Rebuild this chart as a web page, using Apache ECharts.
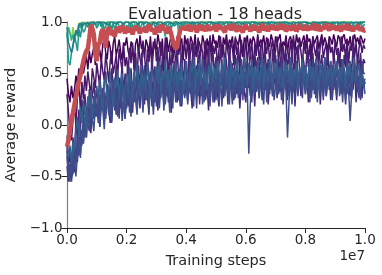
<!DOCTYPE html>
<html><head><meta charset="utf-8">
<script src="https://cdn.jsdelivr.net/npm/echarts@6/dist/echarts.min.js"></script>
<style>html,body{margin:0;padding:0;background:#fff}#c{width:382px;height:275px}</style>
</head><body><div id="c"></div>
<script>
// evaluation every 5e4 steps, values in hundredths of reward
const stepSize = 5e4;
const title = 'Evaluation - 18 heads';
const xName = 'Training steps';
const yName = 'Average reward';
const xTickLabels = ['0.0','0.2','0.4','0.6','0.8','1.0'];
const yTickLabels = ['\u22121.0','\u22120.5','0.0','0.5','1.0'];

const headDark = [45,30,22,38,26,34,48,40,55,44,62,50,58,67,54,72,60,69,75,58,
80,66,73,61,78,84,70,64,82,75,59,79,86,68,74,83,71,63,80,77,
85,72,66,81,76,57,79,84,69,87,74,80,65,83,78,70,86,62,81,75,
73,88,79,67,84,52,77,85,71,80,88,66,82,76,86,70,79,84,63,87,
78,84,70,86,81,74,88,67,83,79,72,87,80,58,84,76,85,71,88,79,
82,75,87,80,68,85,78,88,73,83,79,86,70,84,81,77,88,74,66,85,
80,87,72,84,78,86,81,69,88,76,83,79,87,73,85,80,76,88,82,71,
86,79,84,88,74,81,77,87,70,83,86,78,84,72,88,80,85,76,82,87,
75,88,81,84,69,86,79,83,87,74,82,88,77,85,80,72,86,83,78,88,
81,76,87,84,72,85,88,79,83,77,86,74,82,88,80,85,78,87,83,79,84];
const headPurple1 = [30,12,-8,-15,5,20,-2,28,38,15,42,25,48,33,52,40,28,55,46,36,
60,48,38,65,52,44,70,56,41,62,72,50,58,68,45,74,63,52,78,57,
66,48,75,60,80,53,70,42,77,64,58,82,68,50,74,61,79,55,72,84,
62,76,50,81,67,58,85,73,47,70,78,60,83,55,75,68,86,52,71,79,
64,84,57,72,80,49,76,66,85,60,78,70,53,82,74,63,87,58,77,69,
81,56,73,86,65,78,50,84,71,62,80,75,58,86,68,77,54,83,72,66,
85,60,76,70,82,52,79,67,86,63,74,81,57,78,69,84,61,75,83,64,
72,86,59,80,68,77,55,84,73,62,82,70,87,58,76,66,83,71,60,81,
69,84,63,78,56,86,74,67,82,59,77,85,65,73,80,57,84,70,76,62,
83,68,75,58,86,71,79,64,84,60,77,72,87,66,80,59,75,82,70,78,74];
const headViolet = [-20,-40,-28,-45,-12,-30,5,-15,15,-5,25,8,30,14,2,35,20,28,42,18,
35,22,48,30,15,44,52,26,38,20,55,40,32,58,25,46,36,60,30,50,
42,62,34,55,28,48,66,40,58,32,70,45,54,36,64,50,30,68,44,57,
38,72,52,46,66,34,60,74,42,56,68,36,62,48,76,40,58,70,33,64,
55,45,73,38,62,78,50,42,68,58,35,72,54,64,46,76,40,60,70,48,
66,38,58,74,50,44,70,62,36,78,52,60,42,68,56,74,46,64,38,72,
50,62,44,76,58,36,70,54,66,48,78,40,60,72,46,64,52,38,74,58,
68,42,62,54,76,48,38,70,58,66,44,74,52,62,40,78,56,46,68,60,
44,72,56,64,38,70,50,60,76,46,58,68,42,66,54,74,48,62,40,70,
58,46,74,52,64,40,68,56,72,44,62,50,76,58,42,66,54,70,48,64,60];
const headPurple2 = [-40,-55,-42,-50,-30,-46,-22,-36,-10,-28,-5,-18,8,-12,15,0,-8,20,6,25,
12,28,-2,18,32,8,24,38,14,2,30,20,40,10,26,36,16,44,22,6,
34,18,46,28,12,40,24,50,32,16,44,36,20,52,28,10,42,30,48,22,
38,14,50,30,44,20,54,36,26,46,12,40,56,32,22,48,36,18,52,28,
42,24,56,34,16,48,38,28,58,20,44,32,52,26,40,14,54,36,46,22,
50,30,18,44,56,26,38,48,20,58,34,42,24,52,30,46,16,40,54,32,
22,48,36,58,28,44,18,52,38,30,56,24,46,34,60,20,42,50,28,40,
54,26,44,32,58,20,48,38,24,52,42,30,56,18,46,36,50,28,40,58,
30,48,22,54,40,34,60,26,44,50,20,46,36,56,28,42,52,24,48,38,
46,24,52,36,58,30,44,20,54,40,28,50,34,56,22,48,38,60,26,44,40];
const headIndigo = [-25,-50,-38,-55,-42,-20,-32,-12,-28,-5,-18,5,-8,15,2,22,-4,12,28,8,
20,2,30,16,36,8,26,40,12,32,22,44,14,28,38,6,34,46,20,30,
42,24,50,16,36,46,28,54,32,20,48,38,58,26,44,30,52,18,40,56,
30,50,24,58,42,34,62,28,46,54,20,44,60,36,26,52,40,64,32,48,
56,36,44,62,26,50,40,58,30,64,46,34,54,24,48,60,38,52,28,44,
60,32,50,42,64,28,54,38,46,62,34,56,26,48,58,40,30,64,44,52,
36,58,46,28,62,40,54,32,60,44,50,26,64,38,48,56,30,52,42,62,
48,30,56,44,64,34,50,60,28,46,58,38,54,24,62,42,52,36,60,46,
58,40,32,54,46,64,30,50,42,60,36,56,28,48,62,38,52,44,58,34,
44,62,38,52,30,58,48,36,64,42,54,32,50,60,40,56,28,46,62,50,50];
const headSlate = [-15,-42,-55,-35,-48,-25,-38,-10,-30,-2,-20,8,-12,18,0,-6,22,4,14,26,
8,20,-2,28,14,32,6,24,36,12,2,30,18,38,10,26,34,4,22,40,
16,36,26,8,42,22,32,14,46,28,38,12,48,24,34,18,44,30,10,40,
26,46,16,38,30,50,20,42,34,12,48,28,40,22,52,32,18,44,36,26,
48,20,38,30,54,26,44,16,50,36,28,46,22,56,34,40,18,52,30,42,
24,50,36,46,18,54,32,42,28,56,38,20,48,34,52,26,44,30,58,36,
44,28,54,38,22,50,42,32,58,26,46,36,20,52,40,30,56,34,48,24,
38,56,30,46,24,52,40,34,58,28,44,20,50,36,54,30,42,48,26,56,
32,50,40,22,54,36,46,28,58,42,30,52,24,48,38,56,34,44,26,50,
40,28,54,36,48,22,56,44,30,52,38,26,50,42,58,32,46,24,54,36,42];
const headBlue1 = [-30,-52,-40,-48,-22,-36,-50,-28,-10,-32,-5,-18,8,-12,14,-2,20,6,-6,18,
12,26,2,30,16,-4,22,34,10,28,4,36,18,26,8,32,40,14,24,6,
28,40,12,34,20,46,26,10,38,30,48,16,42,24,36,14,50,32,20,44,
18,38,50,26,42,14,34,48,22,44,36,16,52,30,40,24,54,20,46,34,
40,24,52,32,46,18,56,36,28,50,42,20,54,34,44,26,58,38,22,48,
34,54,22,46,38,58,28,48,40,20,56,36,44,26,52,42,30,58,24,46,
52,36,-28,20,44,56,30,48,38,26,54,42,34,58,22,50,40,46,28,56,
42,30,52,38,58,26,48,34,-12,22,46,56,32,50,40,28,54,44,36,58,
30,50,40,56,26,46,36,54,22,48,42,58,32,44,28,52,38,56,24,46,
54,36,48,28,56,40,46,24,52,34,4,30,50,42,58,36,26,54,44,38,45];
const headBlue2 = [-10,-32,-20,-38,-15,-26,-5,8,-12,18,2,24,10,-4,28,16,34,6,22,30,
38,20,44,28,14,40,48,24,34,52,30,18,46,36,54,26,42,50,22,38,
48,30,56,40,24,52,36,60,44,28,58,38,50,32,62,42,26,54,46,34,
56,40,62,30,50,44,64,36,54,28,58,46,38,62,34,52,42,60,30,48,
62,44,36,58,50,66,32,54,46,60,38,64,42,52,34,58,48,62,40,56,
44,62,52,36,60,48,66,40,56,34,62,46,54,38,64,50,42,58,36,66,
50,38,60,46,64,34,56,44,62,40,52,66,36,58,48,42,64,54,38,60,
46,64,40,56,50,36,62,48,58,42,66,38,54,46,60,34,56,50,64,42,
58,36,52,62,44,56,40,64,48,34,60,52,42,66,38,54,46,62,40,58,
48,62,38,56,44,64,50,36,58,46,62,40,54,66,42,52,60,36,50,44,30];
const headLime = [97,92,88,84,95,85,90,93,99,96,100,98,100,100,99,100,100,98,100,100,
100,99,100,100,100,100,99,100,100,100,100,100,99,100,100,100,100,100,99,100,
100,100,100,99,100,100,100,100,100,99,100,100,100,100,99,100,100,100,100,100,
99,100,100,100,100,100,99,100,100,100,100,100,100,99,100,100,100,100,99,100,
100,100,99,100,100,100,100,100,99,100,100,100,100,100,100,99,100,100,100,100,
100,99,100,100,100,100,100,99,100,100,100,100,99,100,100,100,100,100,100,99,
100,100,100,99,100,100,100,100,100,99,100,100,100,100,99,100,100,100,100,100,
99,100,100,100,100,100,99,100,100,100,100,100,100,99,100,100,100,100,99,100,
100,100,99,100,100,100,100,100,99,100,100,100,100,100,100,99,100,100,100,100,
100,99,100,100,100,100,100,99,100,100,100,100,99,100,100,100,100,100,100,99,100];
const headGreen = [85,95,90,82,88,80,92,86,98,94,100,96,99,97,100,99,96,100,98,99,
97,100,99,100,93,100,98,100,99,100,87,100,99,100,98,100,99,100,92,100,
99,100,98,100,99,100,100,92,100,99,100,98,100,99,100,100,98,100,99,100,
100,99,100,97,100,99,85,100,99,100,100,98,100,99,100,88,100,99,100,100,
99,100,98,100,100,99,100,90,100,99,100,100,98,100,99,100,100,99,100,98,
100,99,100,100,98,100,99,100,100,97,100,99,100,100,98,100,99,100,100,99,
100,98,100,99,100,100,99,100,98,100,100,99,100,100,97,100,99,100,100,98,
99,100,100,98,100,99,100,100,99,100,98,100,100,99,100,90,100,99,100,100,
100,99,100,100,98,100,99,100,100,99,100,100,98,100,99,100,100,99,100,98,
100,100,99,100,98,100,100,99,100,100,99,100,98,100,100,99,100,100,98,100,100];
const headTeal2 = [90,62,58,70,75,88,80,72,93,85,96,90,92,98,95,99,97,88,100,98,
94,97,100,95,98,93,96,100,95,97,94,99,93,97,100,96,94,98,96,92,
97,95,99,94,98,91,96,95,99,93,97,100,94,96,95,99,92,97,100,95,
96,99,94,93,98,96,99,95,97,100,94,98,96,95,99,97,93,98,96,100,
95,98,96,94,99,97,100,95,96,99,93,98,97,95,99,94,97,100,96,98,
97,94,99,96,95,98,97,93,99,96,100,95,97,99,94,98,96,95,99,97,
99,96,94,98,95,97,100,96,95,99,93,97,99,95,97,100,94,98,96,95,
99,97,95,98,94,96,100,95,99,97,93,98,96,99,95,97,100,94,98,96,
95,99,97,94,98,96,95,100,97,99,94,96,99,95,98,97,93,99,96,100,
97,95,99,96,94,98,97,100,95,96,99,94,98,97,95,99,96,100,94,97,97];
const headTeal1 = [95,80,75,70,78,85,92,88,97,99,95,99,100,98,100,97,100,99,100,98,
100,99,100,98,100,100,99,100,97,100,99,100,100,98,100,99,100,100,98,100,
99,100,100,98,100,99,100,100,97,100,99,100,98,100,100,99,100,97,100,100,
98,100,99,100,100,98,100,99,100,100,99,100,98,100,100,99,100,98,100,99,
100,99,100,98,100,100,99,100,100,97,100,99,100,100,98,100,99,100,100,99,
100,98,100,99,100,100,98,100,99,100,100,99,100,98,100,100,99,100,98,100,
99,100,100,98,100,99,100,100,99,100,98,100,100,99,100,100,98,100,99,100,
100,99,100,100,98,100,99,100,100,99,100,98,100,100,99,100,100,98,100,99,
100,100,99,100,98,100,100,99,100,100,98,100,99,100,100,99,100,98,100,100,
99,100,100,98,100,99,100,100,99,100,98,100,100,99,100,100,98,100,99,100,100];
const ensemble = [-21,-15,-5,5,12,20,28,35,42,48,55,62,68,72,74,85,97,94,88,70,
62,78,80,90,93,86,75,91,95,90,88,92,86,93,95,90,92,96,94,89,
92,95,90,94,88,93,96,97,92,89,94,91,95,90,93,97,95,91,94,88,
93,96,90,95,97,92,94,89,95,93,88,82,77,74,76,86,92,95,93,96,
92,95,97,91,94,93,96,90,93,97,95,92,96,91,97,94,92,95,93,97,
91,94,97,93,95,92,90,96,94,97,92,95,98,93,91,94,96,92,90,95,
97,93,95,91,94,97,92,96,93,90,95,98,92,94,96,91,95,97,93,94,
96,92,95,98,93,94,97,91,93,96,94,92,97,95,91,94,98,93,95,92,
97,94,92,96,93,95,98,92,94,97,91,95,93,96,98,94,92,95,97,93,
95,92,96,94,91,97,93,95,98,92,94,96,91,95,93,97,94,92,95,91,92];

const heads = [
  {d: headDark, c: '#440154'},
  {d: headPurple1, c: '#481769'},
  {d: headViolet, c: '#482475'},
  {d: headPurple2, c: '#472a7a'},
  {d: headIndigo, c: '#433d84'},
  {d: headSlate, c: '#3e4989'},
  {d: headBlue1, c: '#3d4e8a'},
  {d: headBlue2, c: '#355e8d'},
  {d: headLime, c: '#89d548'},
  {d: headGreen, c: '#2eb37c'},
  {d: headTeal2, c: '#1f978b'},
  {d: headTeal1, c: '#297b8e'}
];
const toPairs = arr => arr.map((v, i) => [i * stepSize, v / 100]);

const series = heads.map(h => ({
  type: 'line', data: toPairs(h.d), showSymbol: false, symbol: 'none',
  lineStyle: {color: h.c, width: 1.5}, itemStyle: {color: h.c}, animation: false, silent: true
}));
series.push({
  type: 'line', data: toPairs(ensemble), showSymbol: false, symbol: 'none',
  lineStyle: {color: '#c44e52', width: 4.5}, itemStyle: {color: '#c44e52'}, animation: false, silent: true
});

const FONT = 'DejaVu Sans';
const chart = echarts.init(document.getElementById('c'), null, {renderer: 'canvas'});
chart.setOption({
  backgroundColor: '#fff',
  animation: false,
  title: {text: title, left: 210, top: 2, textAlign: 'center',
    textStyle: {fontFamily: FONT, fontSize: 16, fontWeight: 'normal', color: '#262626'}},
  grid: {left: 67, right: 17, top: 22, bottom: 47, containLabel: false, outerBoundsMode: 'none'},
  xAxis: {
    type: 'value', min: 0, max: 1e7, interval: 2e6,
    name: xName, nameLocation: 'middle', nameGap: 26,
    nameTextStyle: {fontFamily: FONT, fontSize: 14.5, color: '#262626'},
    axisLine: {show: true, onZero: false, lineStyle: {color: '#262626', width: 1.2}},
    axisTick: {show: true, inside: false, length: 5, lineStyle: {color: '#262626'}},
    axisLabel: {fontFamily: FONT, fontSize: 13.5, color: '#262626', margin: 5,
      formatter: v => xTickLabels[Math.round(v / 2e6)]},
    splitLine: {show: false}
  },
  yAxis: {
    type: 'value', min: -1, max: 1, interval: 0.5,
    name: yName, nameLocation: 'middle', nameGap: 37,
    nameTextStyle: {fontFamily: FONT, fontSize: 14.5, color: '#262626'},
    axisLine: {show: true, onZero: false, lineStyle: {color: '#808080', width: 1.2}},
    axisTick: {show: true, inside: false, length: 5.5, lineStyle: {color: '#262626'}},
    axisLabel: {fontFamily: FONT, fontSize: 13.5, color: '#262626', margin: 4.5,
      formatter: v => yTickLabels[Math.round((v + 1) / 0.5)]},
    splitLine: {show: false}
  },
  graphic: [{type: 'text', right: 17, top: 249,
    style: {text: '1e7', font: '13.5px "DejaVu Sans"', fill: '#262626'}}],
  series: series
});
</script></body></html>
